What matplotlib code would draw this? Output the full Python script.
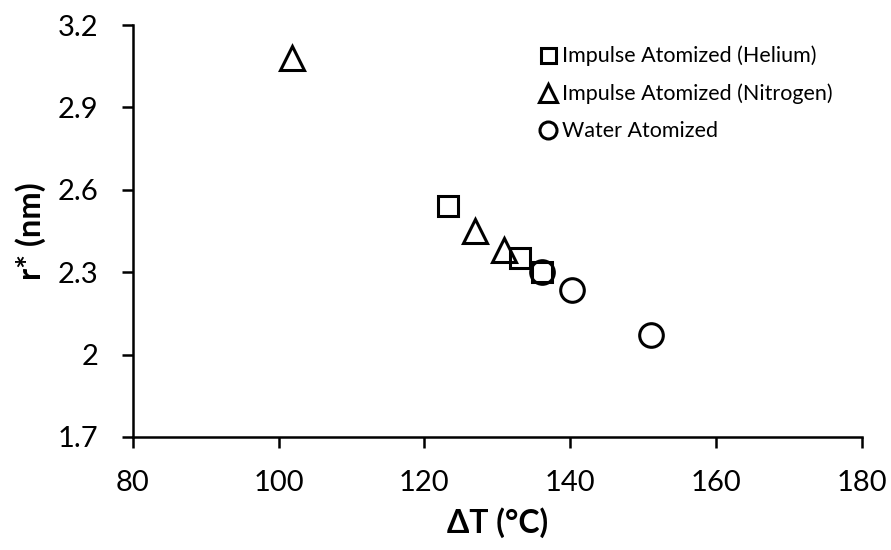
import matplotlib.pyplot as plt

plt.rcParams['font.family'] = ['Lato', 'DejaVu Sans']

# data
he_dT = [123.2, 133.1, 136.1]
he_r = [2.54, 2.35, 2.30]
n2_dT = [101.8, 127.0, 130.9]
n2_r = [3.08, 2.45, 2.38]
w_dT = [136.1, 140.2, 151.1]
w_r = [2.30, 2.235, 2.07]

labels = ['Impulse Atomized (Helium)', 'Impulse Atomized (Nitrogen)', 'Water Atomized']
xticks = [80, 100, 120, 140, 160, 180]
yticks = [1.7, 2.0, 2.3, 2.6, 2.9, 3.2]
yticklabels = ['1.7', '2', '2.3', '2.6', '2.9', '3.2']

fig = plt.figure(figsize=(8.91, 5.5), dpi=100)
ax = fig.add_axes([0.149, 0.2055, 0.818, 0.749])

mk = dict(linestyle='none', markerfacecolor='none', markeredgecolor='black', markeredgewidth=2.2)
ax.plot(he_dT, he_r, marker='s', markersize=15, label=labels[0], **mk)
ax.plot(n2_dT, n2_r, marker='^', markersize=17.5, label=labels[1], **mk)
ax.plot(w_dT, w_r, marker='o', markersize=17, label=labels[2], **mk)

ax.set_xlim(80, 180)
ax.set_ylim(1.7, 3.2)
ax.set_xticks(xticks)
ax.set_yticks(yticks)
ax.set_yticklabels(yticklabels)
ax.tick_params(direction='out', length=8, width=1.8, labelsize=21)
ax.tick_params(axis='y', pad=17)
ax.tick_params(axis='x', pad=16)
for s in ['top', 'right']:
    ax.spines[s].set_visible(False)
for s in ['left', 'bottom']:
    ax.spines[s].set_linewidth(1.8)

ax.set_xlabel('ΔT (°C)', fontsize=23, fontweight='bold', labelpad=8)
ax.set_ylabel('r* (nm)', fontsize=23.5, fontweight='bold', labelpad=8)

ax.legend(loc='upper left', bbox_to_anchor=(0.581, 0.952), bbox_transform=fig.transFigure,
          frameon=False, fontsize=15.5, markerscale=0.72, handletextpad=0.15,
          handlelength=1.0, labelspacing=0.8)

fig.savefig('out.png', dpi=100)
